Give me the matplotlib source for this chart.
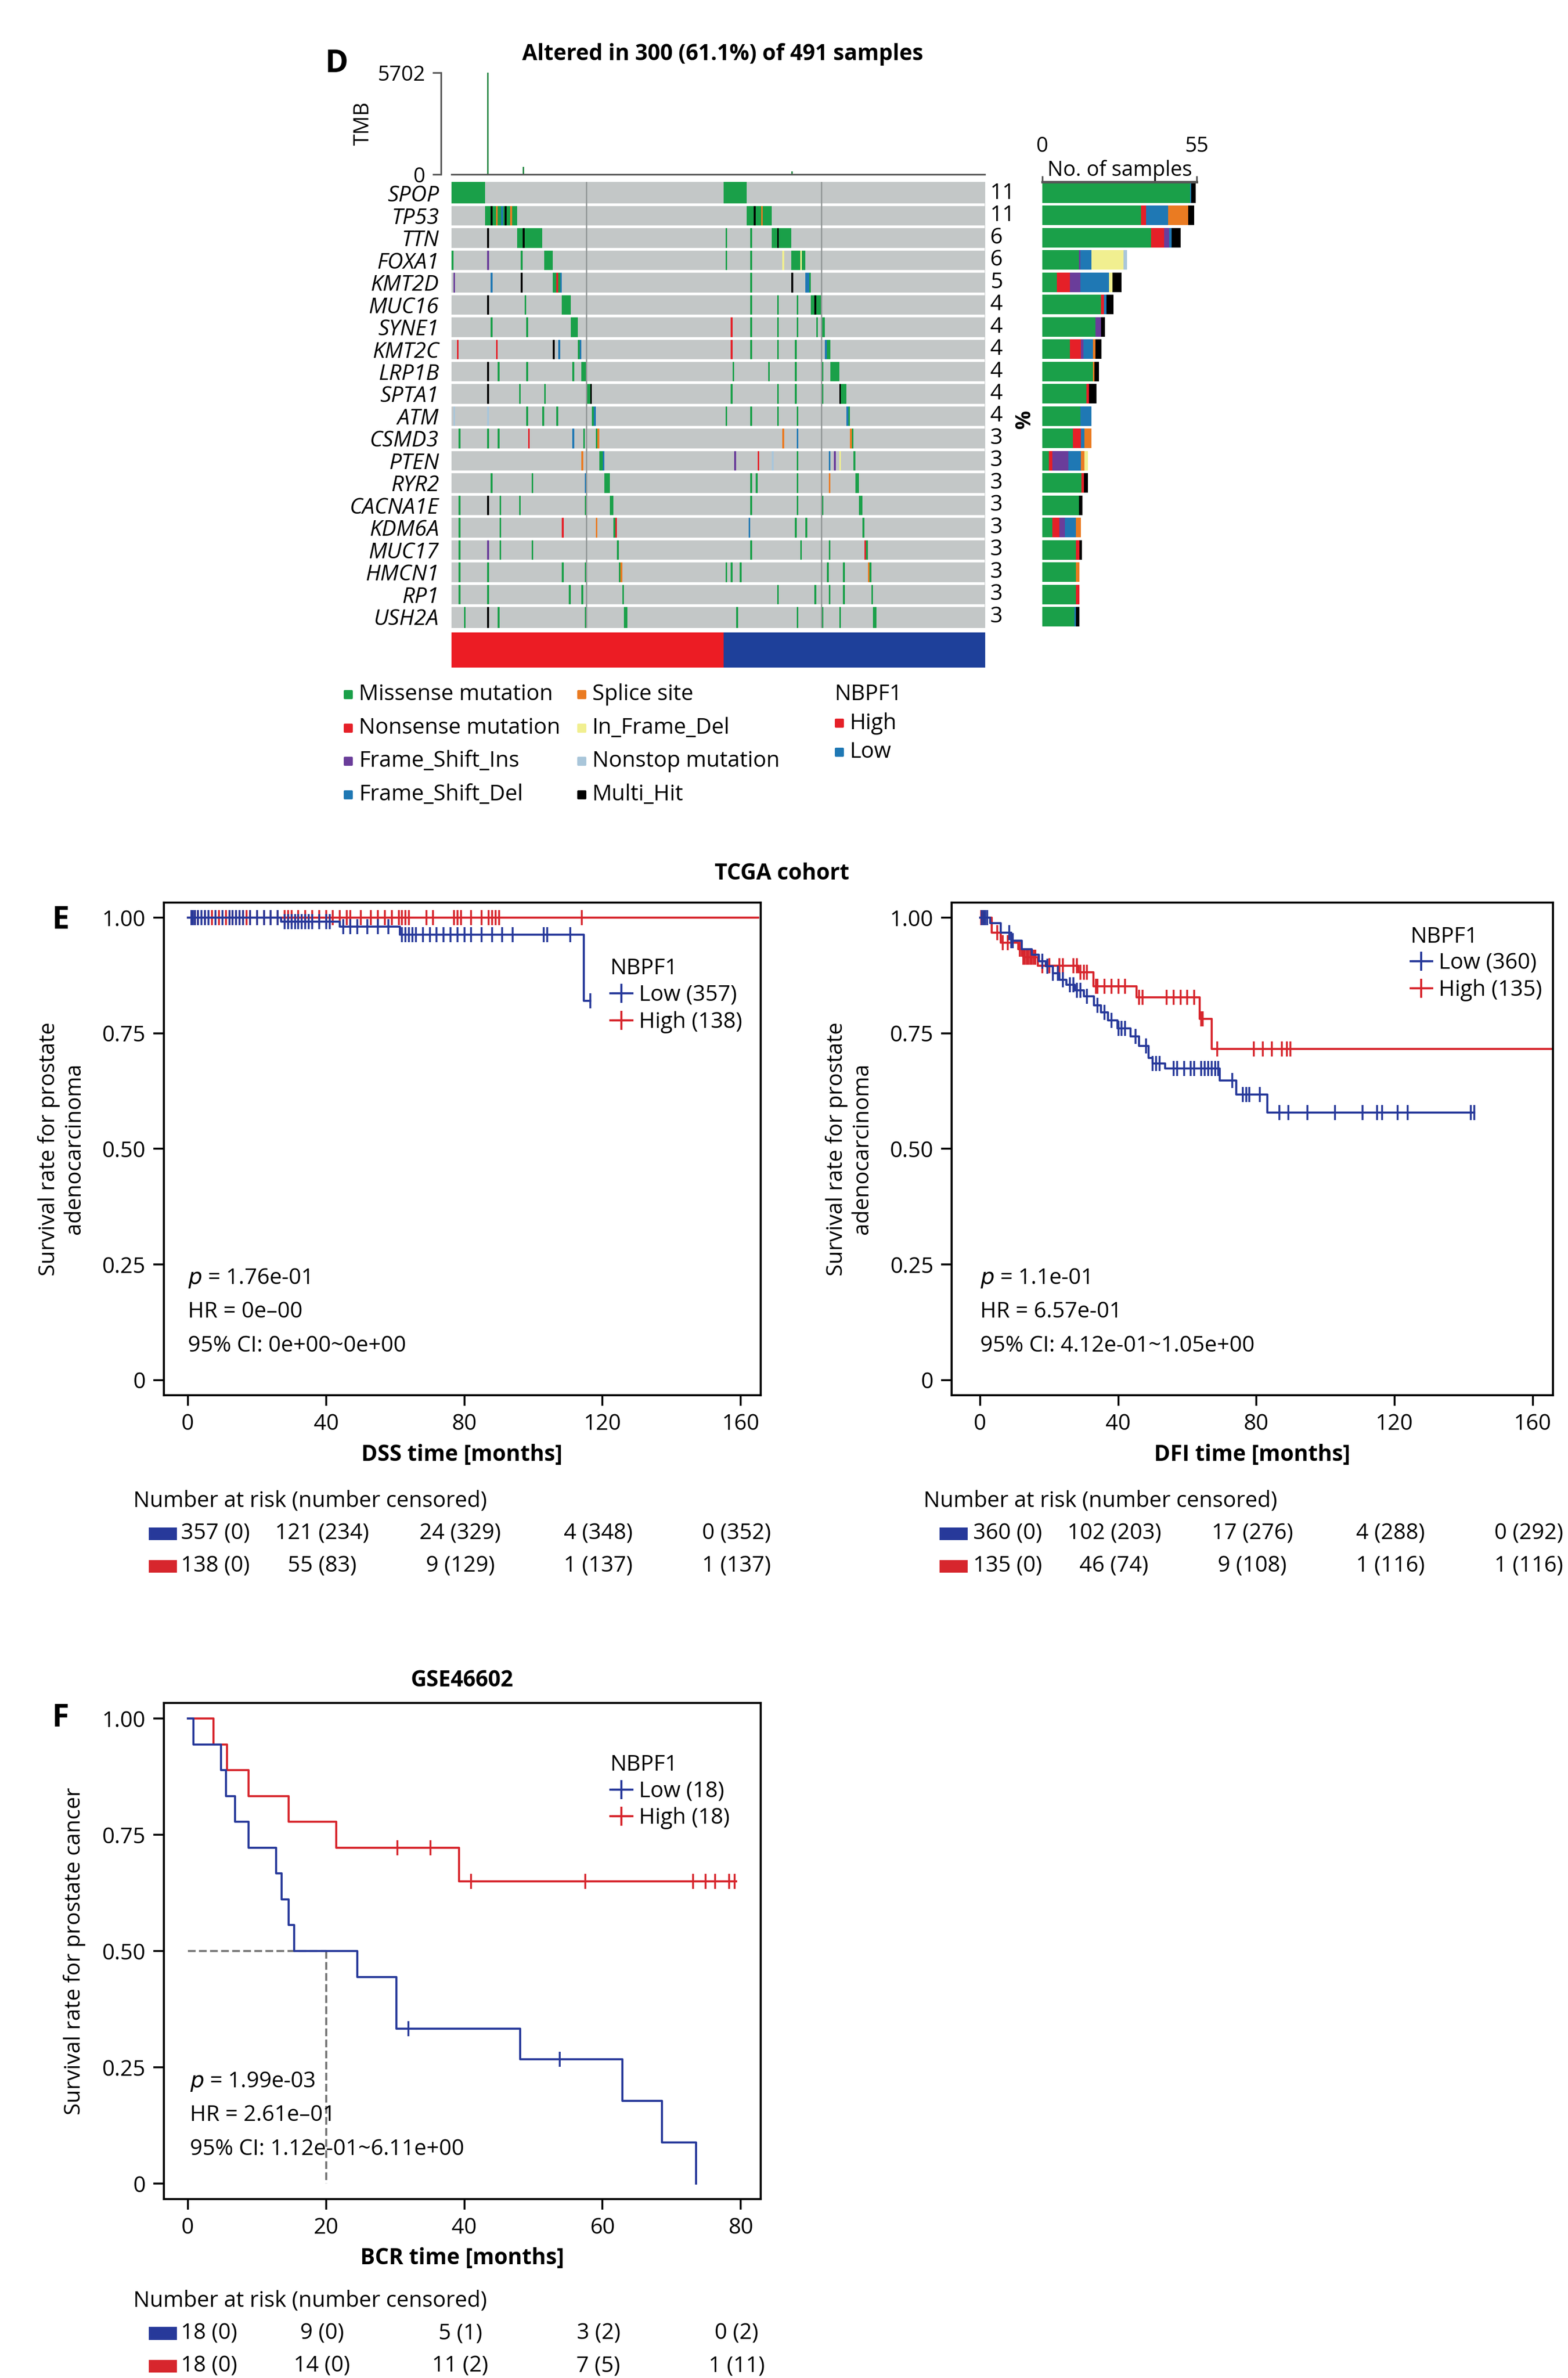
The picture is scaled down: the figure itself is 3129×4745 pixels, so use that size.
import numpy as np
import matplotlib
matplotlib.use("Agg")
import matplotlib.pyplot as plt
from matplotlib.colors import ListedColormap
from matplotlib.lines import Line2D
from matplotlib.patches import Rectangle
import matplotlib.transforms as mtransforms

plt.rcParams["font.family"] = ["Open Sans", "DejaVu Sans"]
plt.rcParams["font.size"] = 10.5

W, H = 1035.0, 1568.0  # layout grid (reference pixels / 3.023)


def fbox(x0, y0, x1, y1):
    return [x0 / W, 1 - y1 / H, (x1 - x0) / W, (y1 - y0) / H]


# ---------------- Panel D data ----------------
genes = ["SPOP", "TP53", "TTN", "FOXA1", "KMT2D", "MUC16", "SYNE1", "KMT2C", "LRP1B", "SPTA1",
         "ATM", "CSMD3", "PTEN", "RYR2", "CACNA1E", "KDM6A", "MUC17", "HMCN1", "RP1", "USH2A"]
pct_labels = ["11", "11", "6", "6", "5", "4", "4", "4", "4", "4", "4", "3", "3", "3", "3", "3", "3", "3", "3", "3"]
n_cols = 300
high_n = 153
# waterfall blocks (start, end) per gene in High and Low groups (column units)
high_blocks = [(0, 19), (19, 37), (37, 51), (52, 57), (57, 62), (62, 67), (67, 71), (71, 73), (73, 76), (76, 79),
               (79, 81), (81, 83), (83, 86), (86, 89), (89, 91), (91, 93), (93, 94), (94, 96), (96, 97), (97, 99)]
low_blocks = [(153, 166), (166, 180), (180, 191), (191, 199), (199, 202), (202, 208), (208, 210), (210, 213),
              (213, 218), (218, 222), (222, 224), (224, 226), (226, 227), (227, 229), (229, 231), (231, 232),
              (232, 234), (234, 236), (236, 237), (237, 239)]
# type codes: 1 missense, 2 nonsense, 3 FS ins, 4 FS del, 5 splice, 6 in-frame del, 7 nonstop, 8 multi hit
block_type = [1, 1, 1, 1, 4, 1, 1, 4, 1, 8, 4, 5, 4, 1, 1, 2, 2, 5, 2, 1]
extra_hits = {
    "TP53": [(22, 8), (25, 5), (28, 4), (30, 8), (33, 5), (170, 8), (174, 5)],
    "TTN": [(20, 8), (40, 8), (43, 1), (183, 8), (154, 1), (168, 1)],
    "FOXA1": [(0, 1), (20, 3), (39, 1), (52, 1), (154, 1), (168, 1), (186, 6), (194, 1), (196, 6)],
    "KMT2D": [(1, 3), (22, 4), (39, 8), (59, 2), (168, 1), (191, 8), (200, 4)],
    "MUC16": [(20, 8), (41, 1), (168, 1), (183, 1), (194, 1), (204, 8)],
    "SYNE1": [(22, 1), (42, 1), (157, 2), (168, 1), (183, 1), (194, 1), (205, 1)],
    "KMT2C": [(3, 2), (25, 2), (57, 8), (60, 4), (157, 2), (168, 1), (183, 1), (193, 1)],
    "LRP1B": [(20, 8), (26, 1), (42, 1), (68, 1), (158, 1), (178, 1), (193, 1), (208, 1)],
    "SPTA1": [(20, 8), (38, 1), (52, 1), (157, 1), (183, 1), (193, 1), (208, 1)],
    "ATM": [(1, 7), (20, 7), (42, 1), (51, 1), (59, 1), (154, 1), (168, 1), (183, 1), (194, 1)],
    "CSMD3": [(4, 1), (20, 1), (26, 1), (43, 2), (68, 4), (74, 1), (186, 5), (194, 4)],
    "PTEN": [(73, 5), (159, 3), (172, 2), (180, 7), (194, 1), (212, 4), (215, 3), (218, 6)],
    "RYR2": [(22, 1), (45, 1), (75, 4), (168, 1), (171, 1), (194, 1), (212, 5)],
    "CACNA1E": [(4, 1), (20, 8), (27, 1), (38, 1), (75, 1), (168, 1), (194, 1), (208, 1)],
    "KDM6A": [(4, 1), (27, 1), (62, 2), (81, 5), (167, 4), (193, 1), (199, 1)],
    "MUC17": [(4, 1), (20, 3), (27, 1), (45, 1), (168, 1), (196, 1), (212, 1)],
    "HMCN1": [(4, 1), (20, 1), (62, 1), (75, 1), (154, 1), (157, 1), (162, 1), (211, 1), (220, 1)],
    "RP1": [(4, 1), (20, 1), (66, 1), (73, 1), (183, 1), (204, 1), (212, 1), (220, 1)],
    "USH2A": [(7, 1), (20, 8), (26, 1), (75, 1), (160, 1), (194, 1), (208, 1), (218, 1)],
}
type_colors = ["#c3c7c7", "#1aa049", "#e52028", "#6a3d9a", "#1f78b4", "#ea7b22", "#f1ef90", "#a9c6da", "#000000"]
tmb_peaks = {20: 5702, 40: 420, 191: 160}
tmb_base = 40

# stacked side bar values: missense, nonsense, fs_ins, fs_del, splice, inframe, nonstop, multi
side_missense = [52.6, 35.2, 38.8, 13.0, 5.1, 20.8, 19.0, 9.9, 18.0, 15.7, 13.6, 10.8, 2.4, 13.9, 13.0, 3.6, 12.0, 12.0, 12.0, 11.4]
side_nonsense = [0.0, 1.8, 4.5, 0.0, 4.8, 1.2, 0.0, 3.9, 0.0, 0.9, 0.0, 3.0, 1.2, 0.9, 0.0, 2.4, 1.2, 0.0, 1.2, 0.0]
side_fsins = [0.0, 0.0, 1.8, 0.6, 3.6, 0.0, 1.8, 0.9, 0.0, 0.0, 0.0, 0.0, 5.7, 0.0, 0.0, 2.1, 0.0, 0.0, 0.0, 0.0]
side_fsdel = [0.4, 7.8, 0.9, 3.9, 10.2, 0.9, 0.0, 3.3, 0.0, 0.0, 3.9, 1.2, 4.5, 0.0, 0.0, 3.9, 0.0, 0.0, 0.0, 0.6]
side_splice = [0.0, 7.2, 0.0, 0.0, 0.0, 0.0, 0.0, 0.9, 0.6, 0.0, 0.0, 2.4, 1.2, 0.0, 0.0, 1.8, 0.0, 1.2, 0.0, 0.0]
side_inframe = [0.0, 0.0, 0.0, 11.4, 1.2, 0.0, 0.0, 0.0, 0.0, 0.0, 0.0, 0.0, 1.2, 0.0, 0.0, 0.0, 0.0, 0.0, 0.0, 0.0]
side_nonstop = [0.0, 0.0, 0.0, 1.2, 0.0, 0.0, 0.0, 0.0, 0.0, 0.0, 0.0, 0.0, 0.0, 0.0, 0.0, 0.0, 0.0, 0.0, 0.0, 0.0]
side_multi = [1.5, 2.1, 3.3, 0.0, 3.3, 2.4, 1.5, 2.1, 1.5, 2.7, 0.0, 0.0, 0.0, 1.5, 1.2, 0.0, 0.9, 0.0, 0.0, 1.2]

legend_col1 = ["Missense mutation", "Nonsense mutation", "Frame_Shift_Ins", "Frame_Shift_Del"]
legend_col1_c = ["#1aa049", "#e52028", "#6a3d9a", "#1f78b4"]
legend_col2 = ["Splice site", "In_Frame_Del", "Nonstop mutation", "Multi_Hit"]
legend_col2_c = ["#ea7b22", "#f1ef90", "#a9c6da", "#000000"]

# ---------------- KM data ----------------
RED = "#d7262d"
BLUE = "#27399a"

dss_low_t = [0, 27, 44, 61.4, 114.6]
dss_low_s = [1.0, 0.991, 0.981, 0.963, 0.82]
dss_low_end = 116.4
dss_low_cens = [1, 1.5, 2, 3, 4, 5, 6, 8, 10, 12, 13, 14, 15, 16, 18, 20, 22, 24, 26, 28, 29, 30, 31, 32, 33, 34,
                35, 36, 38, 40, 41, 45, 47, 49, 52, 55, 58, 62, 63, 64, 65, 66, 68, 70, 72, 74, 76, 78, 80, 82,
                85, 88, 91, 94, 103, 104, 110.6, 116.4]
dss_high_t = [0]
dss_high_s = [1.0]
dss_high_end = 165
dss_high_cens = [1, 2, 3, 5, 7, 9, 11, 12, 13, 14, 15, 16, 17, 18, 20, 22, 24, 26, 28, 29, 30, 32, 34, 36, 38,
                 40, 42, 44, 46, 47, 50, 53, 55, 57, 59, 61, 62, 63, 64, 69, 71, 77, 78, 79, 82, 85, 87, 88, 89, 90, 114]

dfi_low_t = [0, 3, 6, 9, 12, 15, 17, 19, 21, 23, 25, 27.5, 30, 33, 35, 37, 39.8, 43.5, 46, 48.8, 50, 53.6, 69.4, 74.2, 83.2]
dfi_low_s = [1.0, 0.988, 0.967, 0.95, 0.932, 0.92, 0.906, 0.895, 0.88, 0.866, 0.855, 0.843, 0.83, 0.81, 0.795,
             0.778, 0.761, 0.743, 0.722, 0.696, 0.685, 0.674, 0.648, 0.617, 0.578]
dfi_low_end = 143
dfi_low_cens = [0.5, 1, 1.5, 2, 8.5, 9, 9.5, 18, 19.5, 21, 22.5, 24, 26, 27, 28, 29, 31, 34, 36, 38, 40, 41, 42,
                45, 48, 50, 51, 52, 56, 57, 59, 61, 62, 64, 65, 66, 67, 68, 69, 73, 76, 77, 78, 81,
                86.7, 89.3, 94.7, 102.7, 110.7, 114.9, 116.3, 120.8, 123.8, 142.1, 143]
dfi_high_t = [0, 3.3, 6, 11, 12.5, 16.7, 28.4, 32.8, 45.3, 63.5, 67]
dfi_high_s = [1.0, 0.967, 0.946, 0.932, 0.914, 0.896, 0.882, 0.852, 0.828, 0.781, 0.716]
dfi_high_end = 175
dfi_high_cens = [0.3, 0.8, 5, 6.5, 8, 11.5, 12, 12.5, 13, 13.5, 14, 14.5, 15, 15.5, 16, 18, 20, 23, 24, 27, 28,
                 29, 30, 31, 33.5, 34, 36, 38, 40, 42, 46, 47, 54, 56, 58, 60, 62, 64, 64.5, 68.6, 79.2, 81.9, 84.5, 87.4, 88.8, 89.8]

bcr_low_t = [0, 0.8, 4.8, 5.5, 6.8, 8.8, 12.8, 13.6, 14.6, 15.4, 24.5, 30.2, 48.1, 62.9, 68.6, 73.5]
bcr_low_s = [1.0, 0.944, 0.889, 0.833, 0.778, 0.722, 0.667, 0.611, 0.556, 0.5, 0.444, 0.333, 0.267, 0.178, 0.089, 0.0]
bcr_low_end = 73.5
bcr_low_cens = [31.9, 53.8]
bcr_high_t = [0, 3.7, 5.7, 8.8, 14.6, 21.5, 39.2]
bcr_high_s = [1.0, 0.944, 0.889, 0.833, 0.778, 0.722, 0.65]
bcr_high_end = 79.3
bcr_high_cens = [30.3, 35.1, 41.0, 57.5, 73.1, 74.9, 76.3, 78.3, 79.1]

risk_times_tcga = [0, 40, 80, 120, 160]
dss_risk_low = ["357 (0)", "121 (234)", "24 (329)", "4 (348)", "0 (352)"]
dss_risk_high = ["138 (0)", "55 (83)", "9 (129)", "1 (137)", "1 (137)"]
dfi_risk_low = ["360 (0)", "102 (203)", "17 (276)", "4 (288)", "0 (292)"]
dfi_risk_high = ["135 (0)", "46 (74)", "9 (108)", "1 (116)", "1 (116)"]
risk_times_gse = [0, 20, 40, 60, 80]
bcr_risk_low = ["18 (0)", "9 (0)", "5 (1)", "3 (2)", "0 (2)"]
bcr_risk_high = ["18 (0)", "14 (0)", "11 (2)", "7 (5)", "1 (11)"]

fig = plt.figure(figsize=(3129 / 300, 4745 / 300), dpi=300)

# ---------------- Panel D ----------------
mat = np.zeros((len(genes), n_cols), dtype=int)
for gi, g in enumerate(genes):
    for (a, b) in (high_blocks[gi], low_blocks[gi]):
        mat[gi, a:b] = 1
    for c, tcode in extra_hits.get(g, []):
        mat[gi, c] = tcode
    a, b = high_blocks[gi]
    if block_type[gi] != 1 and b - a > 1:
        mat[gi, b - 1] = block_type[gi]
    a, b = low_blocks[gi]
    if block_type[gi] != 1 and b - a > 1:
        mat[gi, a] = block_type[gi]

ax_onc = fig.add_axes(fbox(298, 120, 650, 414))
ax_onc.imshow(mat, aspect="auto", cmap=ListedColormap(type_colors), vmin=0, vmax=8,
              interpolation="nearest", extent=(0, n_cols, len(genes), 0))
for r in range(1, len(genes)):
    ax_onc.axhline(r, color="white", lw=1.3)
for c in (76, 208):
    ax_onc.axvline(c, color="#8f9494", lw=0.6)
ax_onc.set_yticks(np.arange(len(genes)) + 0.5)
ax_onc.set_yticklabels(genes, style="italic", fontsize=10.5)
ax_onc.tick_params(axis="y", length=0, pad=6)
ax_onc.set_xticks([])
for s in ax_onc.spines.values():
    s.set_visible(False)
for i, p in enumerate(pct_labels):
    ax_onc.text(n_cols * 1.01, i + 0.5, p, ha="left", va="center", fontsize=10.5)
ax_onc.text(n_cols * 1.065, 10.7, "%", ha="center", va="center", rotation=-90, fontsize=10, fontweight="bold")

ax_tmb = fig.add_axes(fbox(298, 48, 650, 115))
tmb_vals = np.full(n_cols, float(tmb_base))
for c, v in tmb_peaks.items():
    tmb_vals[c] = v
ax_tmb.bar(np.arange(n_cols) + 0.5, tmb_vals, width=0.8, color="#2e8b4a", edgecolor="none")
ax_tmb.set_xlim(0, n_cols)
ax_tmb.set_ylim(0, 5702)
ax_tmb.set_yticks([0, 5702])
ax_tmb.set_xticks([])
for s in ("top", "right"):
    ax_tmb.spines[s].set_visible(False)
ax_tmb.spines["left"].set_position(("outward", 5))
ax_tmb.spines["left"].set_color("#555555")
ax_tmb.spines["bottom"].set_color("#555555")
ax_tmb.set_ylabel("TMB", fontsize=10, labelpad=2)
ax_tmb.tick_params(axis="y", labelsize=10, length=4, color="#555555")

ax_grp = fig.add_axes(fbox(298, 417, 650, 440))
grp = np.array([[0] * high_n + [1] * (n_cols - high_n)])
ax_grp.imshow(grp, aspect="auto", cmap=ListedColormap(["#ec1c24", "#1e409a"]), extent=(0, n_cols, 1, 0))
ax_grp.axis("off")

ax_side = fig.add_axes(fbox(688, 120, 790, 414))
y = np.arange(len(genes)) + 0.5
left = np.zeros(len(genes))
for vals, col in zip([side_missense, side_nonsense, side_fsins, side_fsdel, side_splice, side_inframe, side_nonstop, side_multi],
                     ["#1aa049", "#e52028", "#6a3d9a", "#1f78b4", "#ea7b22", "#f1ef90", "#a9c6da", "#000000"]):
    ax_side.barh(y, vals, left=left, height=0.88, color=col, edgecolor="none")
    left = left + np.array(vals)
ax_side.set_ylim(len(genes), 0)
ax_side.set_xlim(0, 55)
ax_side.xaxis.tick_top()
ax_side.set_xticks([0, 55])
ax_side.tick_params(axis="x", length=3, labelsize=10, pad=9, color="#555555")
ax_side.set_yticks([])
for s in ("left", "right", "bottom"):
    ax_side.spines[s].set_visible(False)
ax_side.spines["top"].set_color("#555555")
ax_side.spines["top"].set_linewidth(1.2)
ax_side.text(27.5, -0.05, "No. of samples", ha="center", va="bottom", fontsize=10)

fig.text(477 / W, 1 - 36 / H, "Altered in 300 (61.1%) of 491 samples", ha="center", va="center",
         fontsize=10.5, fontweight="bold")
fig.text(222 / W, 1 - 42 / H, "D", ha="center", va="center", fontsize=15, fontweight="bold")

ax_leg = fig.add_axes([0, 0, 1, 1], facecolor="none")
ax_leg.set_xlim(0, W)
ax_leg.set_ylim(H, 0)
ax_leg.axis("off")
rows_y = [458, 480, 502, 524]
for lab, col, yy in zip(legend_col1, legend_col1_c, rows_y):
    ax_leg.scatter([230], [yy], marker="s", s=12, color=col)
    ax_leg.text(237, yy, lab, va="center", ha="left", fontsize=10.5)
for lab, col, yy in zip(legend_col2, legend_col2_c, rows_y):
    ax_leg.scatter([384], [yy], marker="s", s=12, color=col)
    ax_leg.text(391, yy, lab, va="center", ha="left", fontsize=10.5)
ax_leg.text(551, 458, "NBPF1", va="center", ha="left", fontsize=10.5)
for lab, col, yy in zip(["High", "Low"], ["#e52028", "#1f78b4"], [477, 496]):
    ax_leg.scatter([554], [yy], marker="s", s=12, color=col)
    ax_leg.text(561, yy, lab, va="center", ha="left", fontsize=10.5)


# ---------------- KM panels ----------------
def km(ax, t, s, end, cens, color):
    tt = list(t) + [end]
    ss = list(s) + [s[-1]]
    ax.step(tt, ss, where="post", color=color, lw=1.0)
    ct = np.array(cens)
    idx = np.searchsorted(np.array(t), ct, side="right") - 1
    cs = np.array(s)[idx]
    ax.plot(ct, cs, ls="none", marker="|", ms=7, mew=0.9, color=color)


def km_axes(box, xmax_tick, xlim, xlabel):
    ax = fig.add_axes(box)
    ax.set_xlim(*xlim)
    ax.set_ylim(-0.033, 1.033)
    ax.set_yticks([0, 0.25, 0.5, 0.75, 1.0])
    ax.set_yticklabels(["0", "0.25", "0.50", "0.75", "1.00"])
    ax.set_xticks(np.linspace(0, xmax_tick, 5))
    ax.tick_params(length=5, width=0.9, labelsize=10.5)
    for sp in ax.spines.values():
        sp.set_linewidth(1.0)
    ax.set_xlabel(xlabel, fontweight="bold", fontsize=10.5, labelpad=4)
    return ax


def stats(ax, t0, lines):
    for k, l in enumerate(lines):
        ax.text(t0, 0.22 - k * 0.073, l, ha="left", va="center", fontsize=10.5)


def km_legend(ax, x, y, lab_low, lab_high):
    h = [Line2D([], [], color=BLUE, marker="+", ms=9, lw=1.0),
         Line2D([], [], color=RED, marker="+", ms=9, lw=1.0)]
    lg = ax.legend(h, [lab_low, lab_high], title="NBPF1", loc="upper left", bbox_to_anchor=(x, y),
                   frameon=False, fontsize=10.5, title_fontsize=10.5, handlelength=1.0,
                   handletextpad=0.3, borderpad=0, labelspacing=0.2)
    lg._legend_box.align = "left"


def risk(ax, times, low, high, y0, t_left):
    tr = mtransforms.blended_transform_factory(ax.transData, ax.transAxes)
    ax.text(t_left, y0, "Number at risk (number censored)", transform=tr, ha="left", va="center", fontsize=10.5)
    step = times[1] - times[0]
    for row, (vals, col) in enumerate([(low, BLUE), (high, RED)]):
        yy = y0 - 0.066 * (row + 1)
        ax.add_patch(Rectangle((t_left + 0.12 * step, yy - 0.011), 0.19 * step, 0.022, transform=tr,
                               color=col, clip_on=False))
        for k, (tm, v) in enumerate(zip(times, vals)):
            if k == 0:
                ax.text(tm - 0.05 * step, yy, v, transform=tr, ha="left", va="center", fontsize=10.5)
            else:
                ax.text(tm - 0.03 * step, yy, v, transform=tr, ha="center", va="center", fontsize=10.5)


axE1 = km_axes(fbox(108, 595, 502, 920), 160, (-7.0, 165.7), "DSS time [months]")
km(axE1, dss_high_t, dss_high_s, dss_high_end, dss_high_cens, RED)
km(axE1, dss_low_t, dss_low_s, dss_low_end, dss_low_cens, BLUE)
km_legend(axE1, 0.73, 0.91, "Low (357)", "High (138)")
stats(axE1, 0, [r"$p$ = 1.76e-01", "HR = 0e\u201300", "95% CI: 0e+00~0e+00"])
axE1.set_ylabel("Survival rate for prostate\nadenocarcinoma", fontsize=10.5, labelpad=8)
risk(axE1, risk_times_tcga, dss_risk_low, dss_risk_high, -0.215, -15.8)

axE2 = km_axes(fbox(628, 595, 1025, 920), 160, (-8.3, 165.8), "DFI time [months]")
km(axE2, dfi_high_t, dfi_high_s, dfi_high_end, dfi_high_cens, RED)
km(axE2, dfi_low_t, dfi_low_s, dfi_low_end, dfi_low_cens, BLUE)
km_legend(axE2, 0.745, 0.975, "Low (360)", "High (135)")
stats(axE2, 0, [r"$p$ = 1.1e-01", "HR = 6.57e-01", "95% CI: 4.12e-01~1.05e+00"])
axE2.set_ylabel("Survival rate for prostate\nadenocarcinoma", fontsize=10.5, labelpad=8)
risk(axE2, risk_times_tcga, dfi_risk_low, dfi_risk_high, -0.215, -16.3)

fig.text(516 / W, 1 - 576 / H, "TCGA cohort", ha="center", va="center", fontsize=10.5, fontweight="bold")
fig.text(40 / W, 1 - 607 / H, "E", ha="center", va="center", fontsize=15, fontweight="bold")

axF = km_axes(fbox(108, 1123, 502, 1450), 80, (-3.5, 82.85), "BCR time [months]")
axF.plot([0, 20], [0.5, 0.5], ls="--", color="#777777", lw=1.0)
axF.plot([20, 20], [0.5, 0], ls="--", color="#777777", lw=1.0)
km(axF, bcr_high_t, bcr_high_s, bcr_high_end, bcr_high_cens, RED)
km(axF, bcr_low_t, bcr_low_s, bcr_low_end, bcr_low_cens, BLUE)
km_legend(axF, 0.73, 0.92, "Low (18)", "High (18)")
stats(axF, 0.3, [r"$p$ = 1.99e-03", "HR = 2.61e\u201301", "95% CI: 1.12e-01~6.11e+00"])
axF.set_ylabel("Survival rate for prostate cancer", fontsize=10.5, labelpad=8)
axF.set_title("GSE46602", fontweight="bold", fontsize=10.5, pad=8)
risk(axF, risk_times_gse, bcr_risk_low, bcr_risk_high, -0.205, -7.9)
fig.text(40 / W, 1 - 1133 / H, "F", ha="center", va="center", fontsize=15, fontweight="bold")

fig.savefig("out.png", dpi=300)
